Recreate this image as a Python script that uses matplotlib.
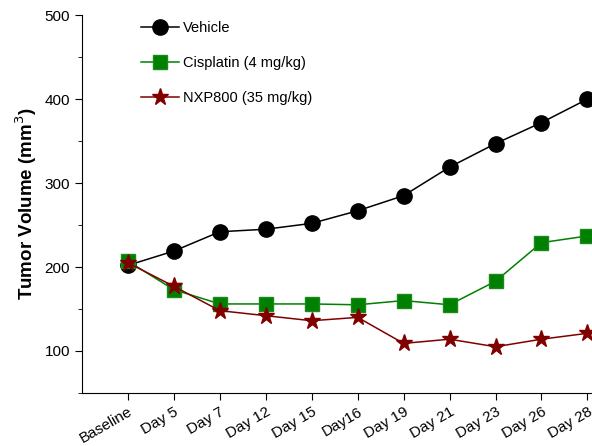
import matplotlib
matplotlib.use('Agg')
import matplotlib.pyplot as plt
from matplotlib.ticker import MultipleLocator

plt.rcParams['font.family'] = ['Liberation Sans', 'DejaVu Sans']

days = ['Baseline', 'Day 5', 'Day 7', 'Day 12', 'Day 15', 'Day16',
        'Day 19', 'Day 21', 'Day 23', 'Day 26', 'Day 28']
vehicle = [202, 219, 242, 245, 252, 267, 285, 319, 347, 372, 400]
cisplatin = [207, 173, 156, 156, 156, 155, 160, 155, 183, 229, 237]
nxp800 = [205, 177, 148, 142, 136, 140, 109, 114, 105, 114, 121]

fig = plt.figure(figsize=(5.92, 4.46), dpi=100)
ax = fig.add_axes([0.1385, 0.119, 0.8615, 0.847])

x = list(range(len(days)))
ax.plot(x, vehicle, 'o-', color='black', lw=1.1, markersize=11, label='Vehicle', clip_on=False, zorder=3)
ax.plot(x, cisplatin, 's-', color='#008000', mec='#1a8a1a', lw=1.1, markersize=10,
        label='Cisplatin (4 mg/kg)', clip_on=False, zorder=4)
ax.plot(x, nxp800, '*-', color='#800000', lw=1.1, markersize=12.5,
        label='NXP800 (35 mg/kg)', clip_on=False, zorder=5)

ax.set_xlim(-1, 10.1)
ax.set_ylim(50, 500)
ax.set_xticks(x)
ax.set_xticklabels(days, rotation=30, ha='right', rotation_mode='anchor', fontsize=11)
ax.set_yticks([100, 200, 300, 400, 500])
ax.yaxis.set_minor_locator(MultipleLocator(50))
ax.tick_params(axis='both', direction='out', length=5, labelsize=11)
ax.tick_params(axis='y', which='minor', length=3)
ax.spines['top'].set_visible(False)
ax.spines['right'].set_visible(False)
ax.set_ylabel('Tumor Volume (mm$^3$)', fontsize=13.5, fontweight='bold', labelpad=4)

ax.legend(loc='upper left', bbox_to_anchor=(0.09, 1.02), frameon=False, fontsize=10.5,
          labelspacing=1.45, handlelength=2.6, handletextpad=0.3, numpoints=1)

fig.savefig('out.png', dpi=100)
